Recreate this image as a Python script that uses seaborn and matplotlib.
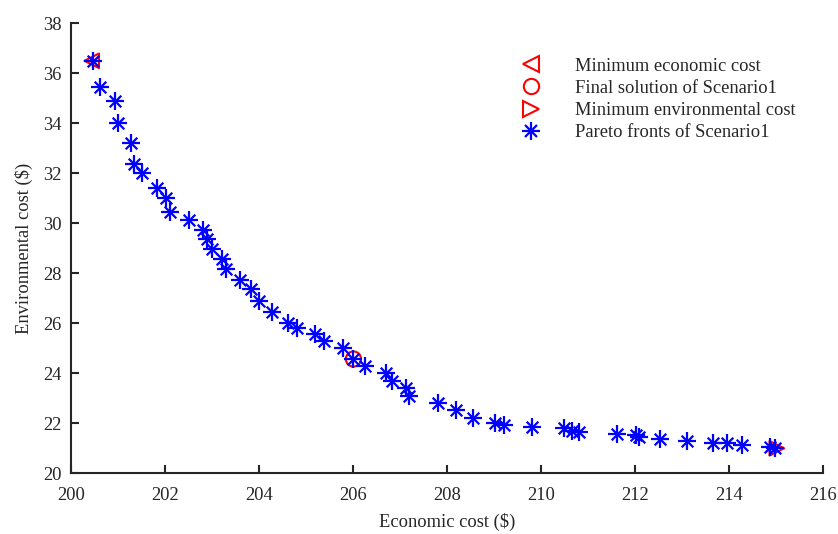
import numpy as np
import pandas as pd
import matplotlib
matplotlib.use("Agg")
import matplotlib.pyplot as plt
import seaborn as sns
from matplotlib.lines import Line2D
from matplotlib.legend_handler import HandlerTuple

# Pareto front of Scenario1 (economic cost $, environmental cost $)
econ_cost = [200.46, 200.61, 200.92, 200.99, 201.26, 201.33, 201.51, 201.81, 202.01, 202.10,
             202.51, 202.79, 202.88, 203.00, 203.21, 203.28, 203.59, 203.81, 203.99, 204.26,
             204.61, 204.79, 205.18, 205.38, 205.77, 206.00, 206.24, 206.70, 206.83, 207.12,
             207.18, 207.80, 208.18, 208.54, 209.01, 209.20, 209.79, 210.48, 210.66, 210.80,
             211.61, 212.01, 212.08, 212.52, 213.10, 213.66, 213.94, 214.26, 214.86, 214.97]
env_cost = [36.50, 35.46, 34.89, 34.02, 33.20, 32.36, 32.02, 31.40, 31.00, 30.46,
            30.13, 29.73, 29.36, 28.96, 28.56, 28.16, 27.73, 27.37, 26.90, 26.46,
            26.00, 25.80, 25.56, 25.29, 25.03, 24.56, 24.29, 24.01, 23.69, 23.42,
            23.09, 22.82, 22.53, 22.23, 22.00, 21.93, 21.86, 21.80, 21.70, 21.66,
            21.57, 21.53, 21.44, 21.36, 21.30, 21.20, 21.22, 21.13, 21.06, 21.00]

min_econ = (200.43, 36.50)
final_sol = (206.00, 24.57)
min_env = (215.01, 21.00)

x_ticks = [200, 202, 204, 206, 208, 210, 212, 214, 216]
y_ticks = [20, 22, 24, 26, 28, 30, 32, 34, 36, 38]

sns.set_style("ticks")
plt.rcParams['font.family'] = ['Liberation Serif', 'DejaVu Serif']
plt.rcParams['mathtext.fontset'] = 'stix'

fig = plt.figure(figsize=(8.38, 5.34), dpi=100)
ax = fig.add_axes([0.0853, 0.1137, 0.8972, 0.8427])

df = pd.DataFrame({"econ": econ_cost, "env": env_cost})
red = (1, 0, 0)
blue = (0, 0, 1)

sns.scatterplot(x=[min_econ[0]], y=[min_econ[1]], marker='<', s=110, facecolors='none',
                edgecolor=red, linewidth=1.5, ax=ax, zorder=2)
sns.scatterplot(x=[final_sol[0]], y=[final_sol[1]], marker='o', s=120, facecolors='none',
                edgecolor=red, linewidth=1.5, ax=ax, zorder=2)
sns.scatterplot(x=[min_env[0]], y=[min_env[1]], marker='>', s=110, facecolors='none',
                edgecolor=red, linewidth=1.5, ax=ax, zorder=2)
sns.scatterplot(data=df, x="econ", y="env", marker='+', s=150, color=blue, linewidth=1.6,
                ax=ax, zorder=3)
sns.scatterplot(data=df, x="econ", y="env", marker='x', s=70, color=blue, linewidth=1.6,
                ax=ax, zorder=3)

ax.set_xlim(200, 216)
ax.set_ylim(20, 38)
ax.set_xticks(x_ticks)
ax.set_yticks(y_ticks)
ax.set_xticklabels([str(t) for t in x_ticks])
ax.set_yticklabels([str(t) for t in y_ticks])
ax.tick_params(direction='in', length=6, width=1.5, colors='#262626', labelsize=13.3,
               labelcolor='#262626')
ax.tick_params(axis='x', pad=10)
ax.tick_params(axis='y', pad=7)
for side in ['left', 'bottom']:
    ax.spines[side].set_linewidth(1.5)
    ax.spines[side].set_color('#262626')
sns.despine(ax=ax)

ax.set_xlabel("Economic cost ($)", fontsize=13.3, color='#262626', labelpad=6)
ax.set_ylabel("Environmental cost ($)", fontsize=13.3, color='#262626', labelpad=7)

h1 = Line2D([], [], ls='none', marker='<', ms=11, mfc='none', mec=red, mew=1.5)
h2 = Line2D([], [], ls='none', marker='o', ms=11, mfc='none', mec=red, mew=1.5)
h3 = Line2D([], [], ls='none', marker='>', ms=11, mfc='none', mec=red, mew=1.5)
h4a = Line2D([], [], ls='none', marker='+', ms=12.5, mec=blue, mew=1.6)
h4b = Line2D([], [], ls='none', marker='x', ms=8.5, mec=blue, mew=1.6)
ax.legend([h1, h2, h3, (h4a, h4b)],
          ["Minimum economic cost", "Final solution of Scenario1",
           "Minimum environmental cost", "Pareto fronts of Scenario1"],
          handler_map={tuple: HandlerTuple(ndivide=1)},
          loc='upper left', bbox_to_anchor=(0.586, 0.94), frameon=False,
          fontsize=13.3, handlelength=1.2, handletextpad=1.8, labelspacing=0.28,
          borderaxespad=0)

fig.savefig("out.png", dpi=100)
